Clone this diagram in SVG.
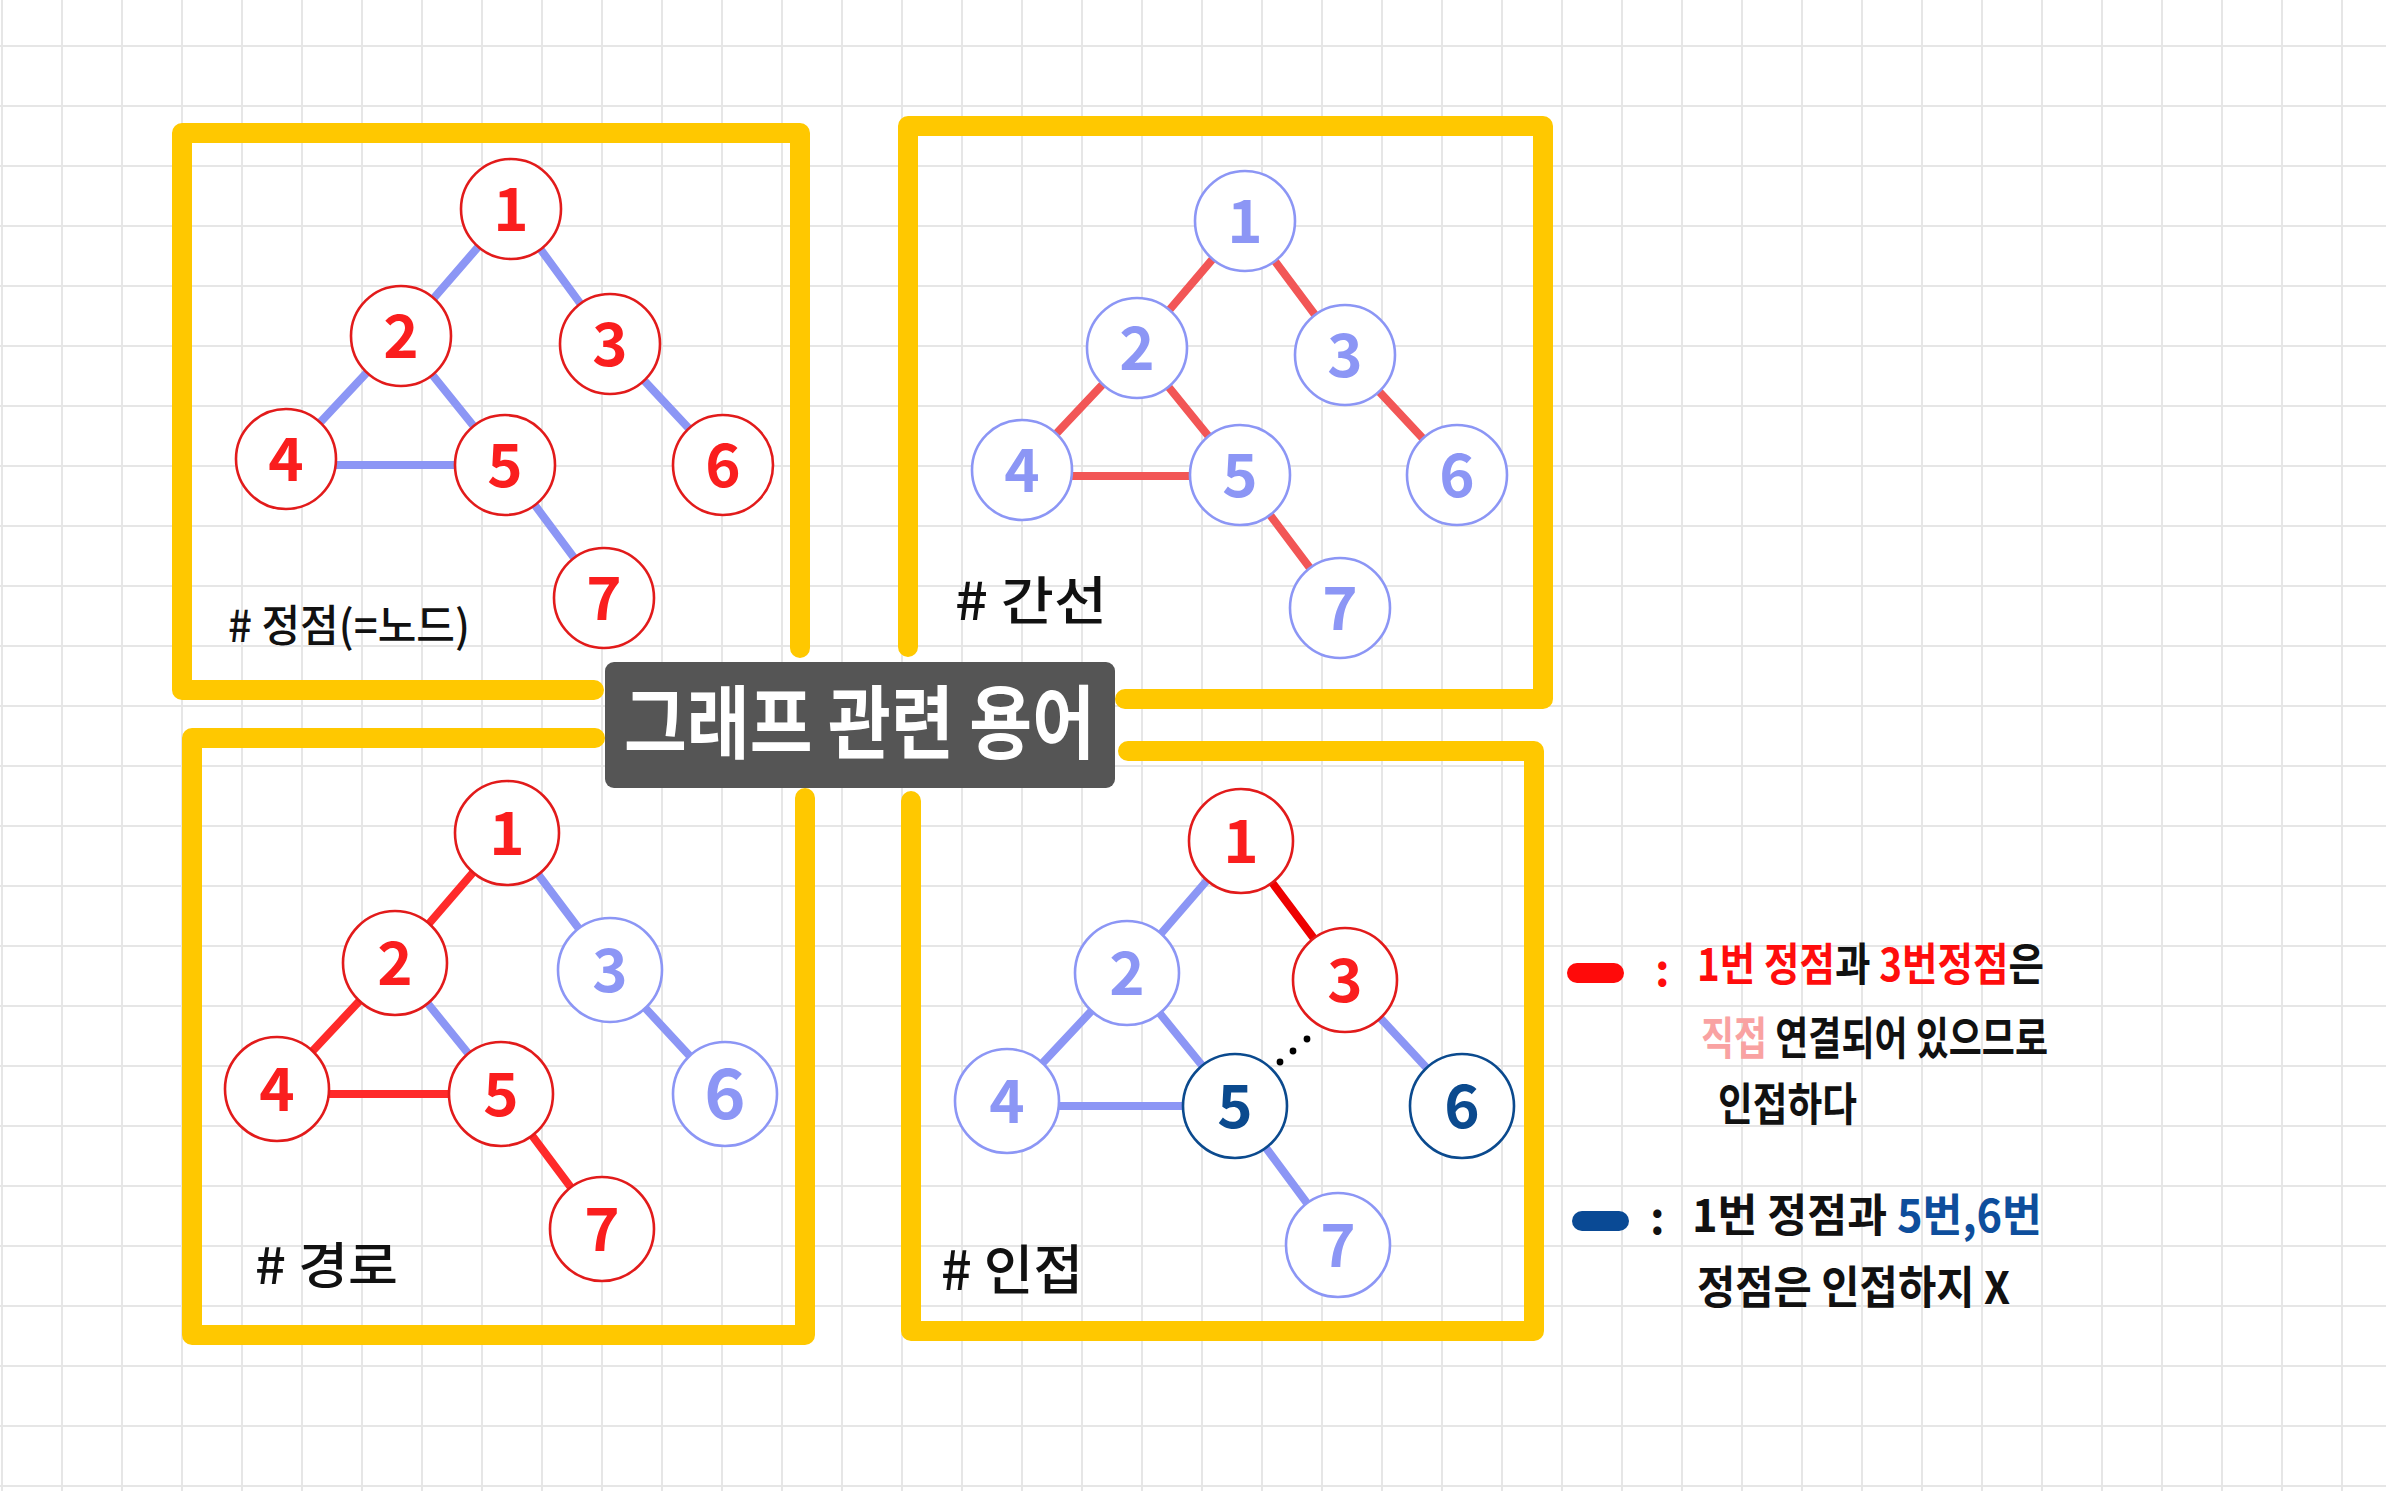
<svg xmlns="http://www.w3.org/2000/svg" width="2386" height="1491" viewBox="0 0 2386 1491">
<defs>
<pattern id="grid" x="1" y="45" width="60" height="60" patternUnits="userSpaceOnUse">
<rect x="0" y="0" width="2" height="60" fill="#e6e6e6"/>
<rect x="0" y="0" width="60" height="2" fill="#e6e6e6"/>
</pattern>
<style>
.frame{fill:none;stroke:#FFC800;stroke-width:20;stroke-linecap:round;stroke-linejoin:round}
.e{stroke-width:8;stroke-linecap:round}
.eb{stroke:#8C96F5}
.er{stroke:#F25656}
.er2{stroke:#FF2A2A}
.er3{stroke:#EE0000}
.n circle{fill:#ffffff;stroke-width:2.6}
.red circle{stroke:#E21B1B}
.red text{fill:#FA1E1E}
.blue circle{stroke:#8C96F5}
.blue text{fill:#8C96F5}
.dark circle{stroke:#0B4A8E}
.dark text{fill:#0B4A8E}
.n text{font-family:"Noto Sans CJK KR","Noto Sans",sans-serif;font-size:60px;font-weight:700;text-anchor:middle}
.lbl{font-family:"Noto Sans CJK KR","Noto Sans",sans-serif;font-weight:500;fill:#111111}
.lg{font-family:"Noto Sans CJK KR","Noto Sans",sans-serif;font-weight:700;font-size:45px;fill:#111111}
.r{fill:#FF0D0D}
.p{fill:#F9A2A2}
.b{fill:#0E4E9C}
</style>
</defs>
<rect x="0" y="0" width="2386" height="1491" fill="#ffffff"/>
<rect x="0" y="0" width="2386" height="1491" fill="url(#grid)"/>

<g id="frames">
<path class="frame" d="M 800 648 V 133 H 182 V 690 H 594"/>
<path class="frame" d="M 908 647 V 126 H 1543 V 699 H 1125"/>
<path class="frame" d="M 595 738 H 192 V 1335 H 805 V 798"/>
<path class="frame" d="M 1128 751 H 1534 V 1331 H 911 V 801"/>
</g>

<g id="title">
<rect x="605" y="662" width="510" height="126" rx="9" fill="#555555"/>
<text x="624" y="752" font-family="'Noto Sans CJK KR','Noto Sans',sans-serif" font-size="80" font-weight="700" fill="#ffffff" textLength="471" lengthAdjust="spacingAndGlyphs">그래프 관련 용어</text>
</g>

<g id="connectors">
<line class="e eb" x1="511" y1="209" x2="401" y2="336"/>
<line class="e eb" x1="511" y1="209" x2="610" y2="344"/>
<line class="e eb" x1="401" y1="336" x2="286" y2="459"/>
<line class="e eb" x1="401" y1="336" x2="505" y2="465"/>
<line class="e eb" x1="286" y1="465" x2="505" y2="465"/>
<line class="e eb" x1="610" y1="344" x2="723" y2="465"/>
<line class="e eb" x1="505" y1="465" x2="604" y2="598"/>
<line class="e er" x1="1245" y1="221" x2="1137" y2="348"/>
<line class="e er" x1="1245" y1="221" x2="1345" y2="355"/>
<line class="e er" x1="1137" y1="348" x2="1022" y2="470"/>
<line class="e er" x1="1137" y1="348" x2="1240" y2="475"/>
<line class="e er" x1="1022" y1="476" x2="1240" y2="476"/>
<line class="e er" x1="1345" y1="355" x2="1457" y2="475"/>
<line class="e er" x1="1240" y1="475" x2="1340" y2="608"/>
<line class="e er2" x1="507" y1="833" x2="395" y2="963"/>
<line class="e eb" x1="507" y1="833" x2="610" y2="970"/>
<line class="e er2" x1="395" y1="963" x2="277" y2="1089"/>
<line class="e eb" x1="395" y1="963" x2="501" y2="1094"/>
<line class="e er2" x1="277" y1="1094" x2="501" y2="1094"/>
<line class="e eb" x1="610" y1="970" x2="725" y2="1094"/>
<line class="e er2" x1="501" y1="1094" x2="602" y2="1229"/>
<line class="e eb" x1="1241" y1="841" x2="1127" y2="973"/>
<line class="e er3" x1="1241" y1="841" x2="1345" y2="980"/>
<line class="e eb" x1="1127" y1="973" x2="1007" y2="1101"/>
<line class="e eb" x1="1127" y1="973" x2="1235" y2="1106"/>
<line class="e eb" x1="1007" y1="1106" x2="1235" y2="1106"/>
<line class="e eb" x1="1345" y1="980" x2="1462" y2="1106"/>
<line class="e eb" x1="1235" y1="1106" x2="1338" y2="1245"/>
<circle cx="1280" cy="1062" r="3.4" fill="#000000"/>
<circle cx="1293" cy="1051" r="3.4" fill="#000000"/>
<circle cx="1307" cy="1039" r="3.4" fill="#000000"/>
</g>

<g id="tl-1" class="n red"><circle cx="511" cy="209" r="50"/><text x="511" y="231">1</text></g>
<g id="tl-2" class="n red"><circle cx="401" cy="336" r="50"/><text x="401" y="358">2</text></g>
<g id="tl-3" class="n red"><circle cx="610" cy="344" r="50"/><text x="610" y="366">3</text></g>
<g id="tl-4" class="n red"><circle cx="286" cy="459" r="50"/><text x="286" y="481">4</text></g>
<g id="tl-5" class="n red"><circle cx="505" cy="465" r="50"/><text x="505" y="487">5</text></g>
<g id="tl-6" class="n red"><circle cx="723" cy="465" r="50"/><text x="723" y="487">6</text></g>
<g id="tl-7" class="n red"><circle cx="604" cy="598" r="50"/><text x="604" y="620">7</text></g>

<g id="tr-1" class="n blue"><circle cx="1245" cy="221" r="50"/><text x="1245" y="243">1</text></g>
<g id="tr-2" class="n blue"><circle cx="1137" cy="348" r="50"/><text x="1137" y="370">2</text></g>
<g id="tr-3" class="n blue"><circle cx="1345" cy="355" r="50"/><text x="1345" y="377">3</text></g>
<g id="tr-4" class="n blue"><circle cx="1022" cy="470" r="50"/><text x="1022" y="492">4</text></g>
<g id="tr-5" class="n blue"><circle cx="1240" cy="475" r="50"/><text x="1240" y="497">5</text></g>
<g id="tr-6" class="n blue"><circle cx="1457" cy="475" r="50"/><text x="1457" y="497">6</text></g>
<g id="tr-7" class="n blue"><circle cx="1340" cy="608" r="50"/><text x="1340" y="630">7</text></g>

<g id="bl-1" class="n red"><circle cx="507" cy="833" r="52"/><text x="507" y="855">1</text></g>
<g id="bl-2" class="n red"><circle cx="395" cy="963" r="52"/><text x="395" y="985">2</text></g>
<g id="bl-3" class="n blue"><circle cx="610" cy="970" r="52"/><text x="610" y="992">3</text></g>
<g id="bl-4" class="n red"><circle cx="277" cy="1089" r="52"/><text x="277" y="1111">4</text></g>
<g id="bl-5" class="n red"><circle cx="501" cy="1094" r="52"/><text x="501" y="1116">5</text></g>
<g id="bl-6" class="n blue"><circle cx="725" cy="1094" r="52"/><text x="725" y="1119" style="font-size:70px">6</text></g>
<g id="bl-7" class="n red"><circle cx="602" cy="1229" r="52"/><text x="602" y="1251">7</text></g>

<g id="br-1" class="n red"><circle cx="1241" cy="841" r="52"/><text x="1241" y="863">1</text></g>
<g id="br-2" class="n blue"><circle cx="1127" cy="973" r="52"/><text x="1127" y="995">2</text></g>
<g id="br-3" class="n red"><circle cx="1345" cy="980" r="52"/><text x="1345" y="1002">3</text></g>
<g id="br-4" class="n blue"><circle cx="1007" cy="1101" r="52"/><text x="1007" y="1123">4</text></g>
<g id="br-5" class="n dark"><circle cx="1235" cy="1106" r="52"/><text x="1235" y="1128">5</text></g>
<g id="br-6" class="n dark"><circle cx="1462" cy="1106" r="52"/><text x="1462" y="1128">6</text></g>
<g id="br-7" class="n blue"><circle cx="1338" cy="1245" r="52"/><text x="1338" y="1267">7</text></g>

<g id="labels">
<text class="lbl" x="228" y="642" font-size="44" textLength="242" lengthAdjust="spacingAndGlyphs"># 정점(=노드)</text>
<text class="lbl" x="955" y="620" font-size="52" textLength="152" lengthAdjust="spacingAndGlyphs"># 간선</text>
<text class="lbl" x="255" y="1284" font-size="50" textLength="143" lengthAdjust="spacingAndGlyphs"># 경로</text>
<text class="lbl" x="941" y="1290" font-size="54" textLength="142" lengthAdjust="spacingAndGlyphs"># 인접</text>
</g>

<g id="legend">
<line x1="1577" y1="973" x2="1614" y2="973" stroke="#FF0A0A" stroke-width="20" stroke-linecap="round"/>
<text class="lg r" x="1655" y="986">:</text>
<text class="lg" x="1697" y="981" textLength="347" lengthAdjust="spacingAndGlyphs"><tspan class="r">1번 정점</tspan>과 <tspan class="r">3번정점</tspan>은</text>
<text class="lg" x="1701" y="1055" textLength="347" lengthAdjust="spacingAndGlyphs"><tspan class="p">직접</tspan> 연결되어 있으므로</text>
<text class="lg" x="1718" y="1121" textLength="139" lengthAdjust="spacingAndGlyphs">인접하다</text>

<line x1="1582" y1="1221" x2="1619" y2="1221" stroke="#0A4A95" stroke-width="20" stroke-linecap="round"/>
<text class="lg" x="1650" y="1234">:</text>
<text class="lg" x="1692" y="1232" textLength="350" lengthAdjust="spacingAndGlyphs">1번 정점과 <tspan class="b">5번,6번</tspan></text>
<text class="lg" x="1697" y="1304" textLength="313" lengthAdjust="spacingAndGlyphs">정점은  인접하지 X</text>
</g>
</svg>
